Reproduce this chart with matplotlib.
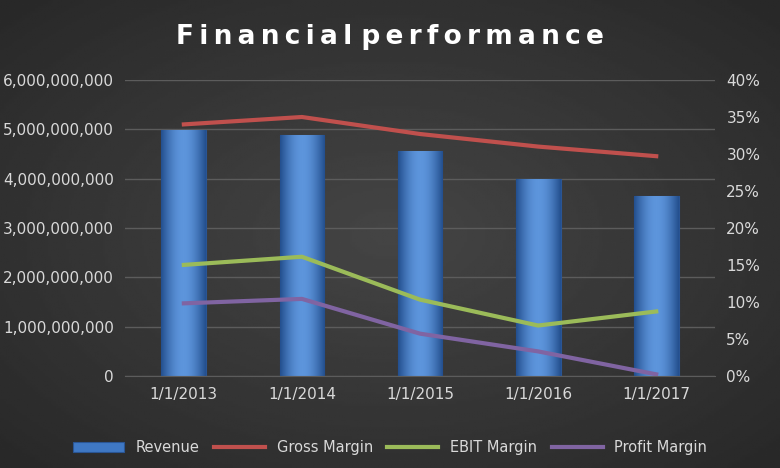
import numpy as np
import matplotlib
matplotlib.use("Agg")
import matplotlib.pyplot as plt
from matplotlib.ticker import FuncFormatter, PercentFormatter
from matplotlib.colors import LinearSegmentedColormap

dates = ["1/1/2013", "1/1/2014", "1/1/2015", "1/1/2016", "1/1/2017"]
revenue = [4.98e9, 4.88e9, 4.57e9, 4.00e9, 3.65e9]
gross_margin = [0.340, 0.350, 0.327, 0.310, 0.297]
ebit_margin = [0.150, 0.161, 0.103, 0.068, 0.087]
profit_margin = [0.098, 0.104, 0.057, 0.033, 0.002]

txt = "#d9d9d9"
fig = plt.figure(figsize=(7.8, 4.68), dpi=100)

# radial-ish dark background
bg = fig.add_axes([0, 0, 1, 1], zorder=-10)
yy, xx = np.mgrid[-1:1:200j, -1:1:300j]
r = np.sqrt(xx**2 + yy**2)
bg.imshow(0.27 - 0.08 * r, cmap="gray", vmin=0, vmax=1, aspect="auto", extent=[0, 1, 0, 1])
bg.axis("off")

ax = fig.add_axes([0.16, 0.197, 0.757, 0.632])
ax.patch.set_alpha(0)
x = np.arange(len(dates))
bars = ax.bar(x, revenue, width=0.38, color="#3f78c4", edgecolor="#2a5594", linewidth=0.8, zorder=2, label="Revenue")
grad = np.sin(np.linspace(0, 1, 64) * np.pi)[None, :]
cm = LinearSegmentedColormap.from_list("b", ["#24508f", "#5d95dc"])
for b in bars:
    im = ax.imshow(grad, cmap=cm, aspect="auto", zorder=2.5,
                   extent=[b.get_x(), b.get_x() + b.get_width(), 0, b.get_height()])
    im.set_clip_path(b)
ax.set_xlim(-0.5, 4.5)
ax.set_ylim(0, 6e9)
ax.set_yticks(np.arange(0, 6.01e9, 1e9))
ax.yaxis.set_major_formatter(FuncFormatter(lambda v, p: f"{v:,.0f}"))
ax.grid(axis="y", color="#5c5c5c", linewidth=1, zorder=0)
ax.set_xticks(x, dates)

ax2 = ax.twinx()
ax2.plot(x, gross_margin, color="#c0504d", lw=3, label="Gross Margin")
ax2.plot(x, ebit_margin, color="#9bbb59", lw=3, label="EBIT Margin")
ax2.plot(x, profit_margin, color="#8064a2", lw=3, label="Profit Margin")
ax2.set_ylim(0, 0.4)
ax2.set_yticks(np.arange(0, 0.401, 0.05))
ax2.yaxis.set_major_formatter(PercentFormatter(1, decimals=0))

for a in (ax, ax2):
    for s in a.spines.values():
        s.set_visible(False)
    a.tick_params(colors=txt, labelsize=11, length=0, pad=8)
ax.spines["bottom"].set_visible(True)
ax.spines["bottom"].set_color("#5c5c5c")

h1, l1 = ax.get_legend_handles_labels()
h2, l2 = ax2.get_legend_handles_labels()
fig.legend(h1 + h2, l1 + l2, loc="lower center", ncol=4, frameon=False,
           labelcolor=txt, fontsize=10.5, bbox_to_anchor=(0.5, 0.0), handlelength=3.5,
           columnspacing=1.0)

fig.text(0.5, 0.92, "F i n a n c i a l   p e r f o r m a n c e".replace(" ", "\u2009").replace("\u2009\u2009\u2009", " "),
         ha="center", va="center", color="white", fontsize=19, fontweight="bold")

fig.savefig("out.png", dpi=100)
